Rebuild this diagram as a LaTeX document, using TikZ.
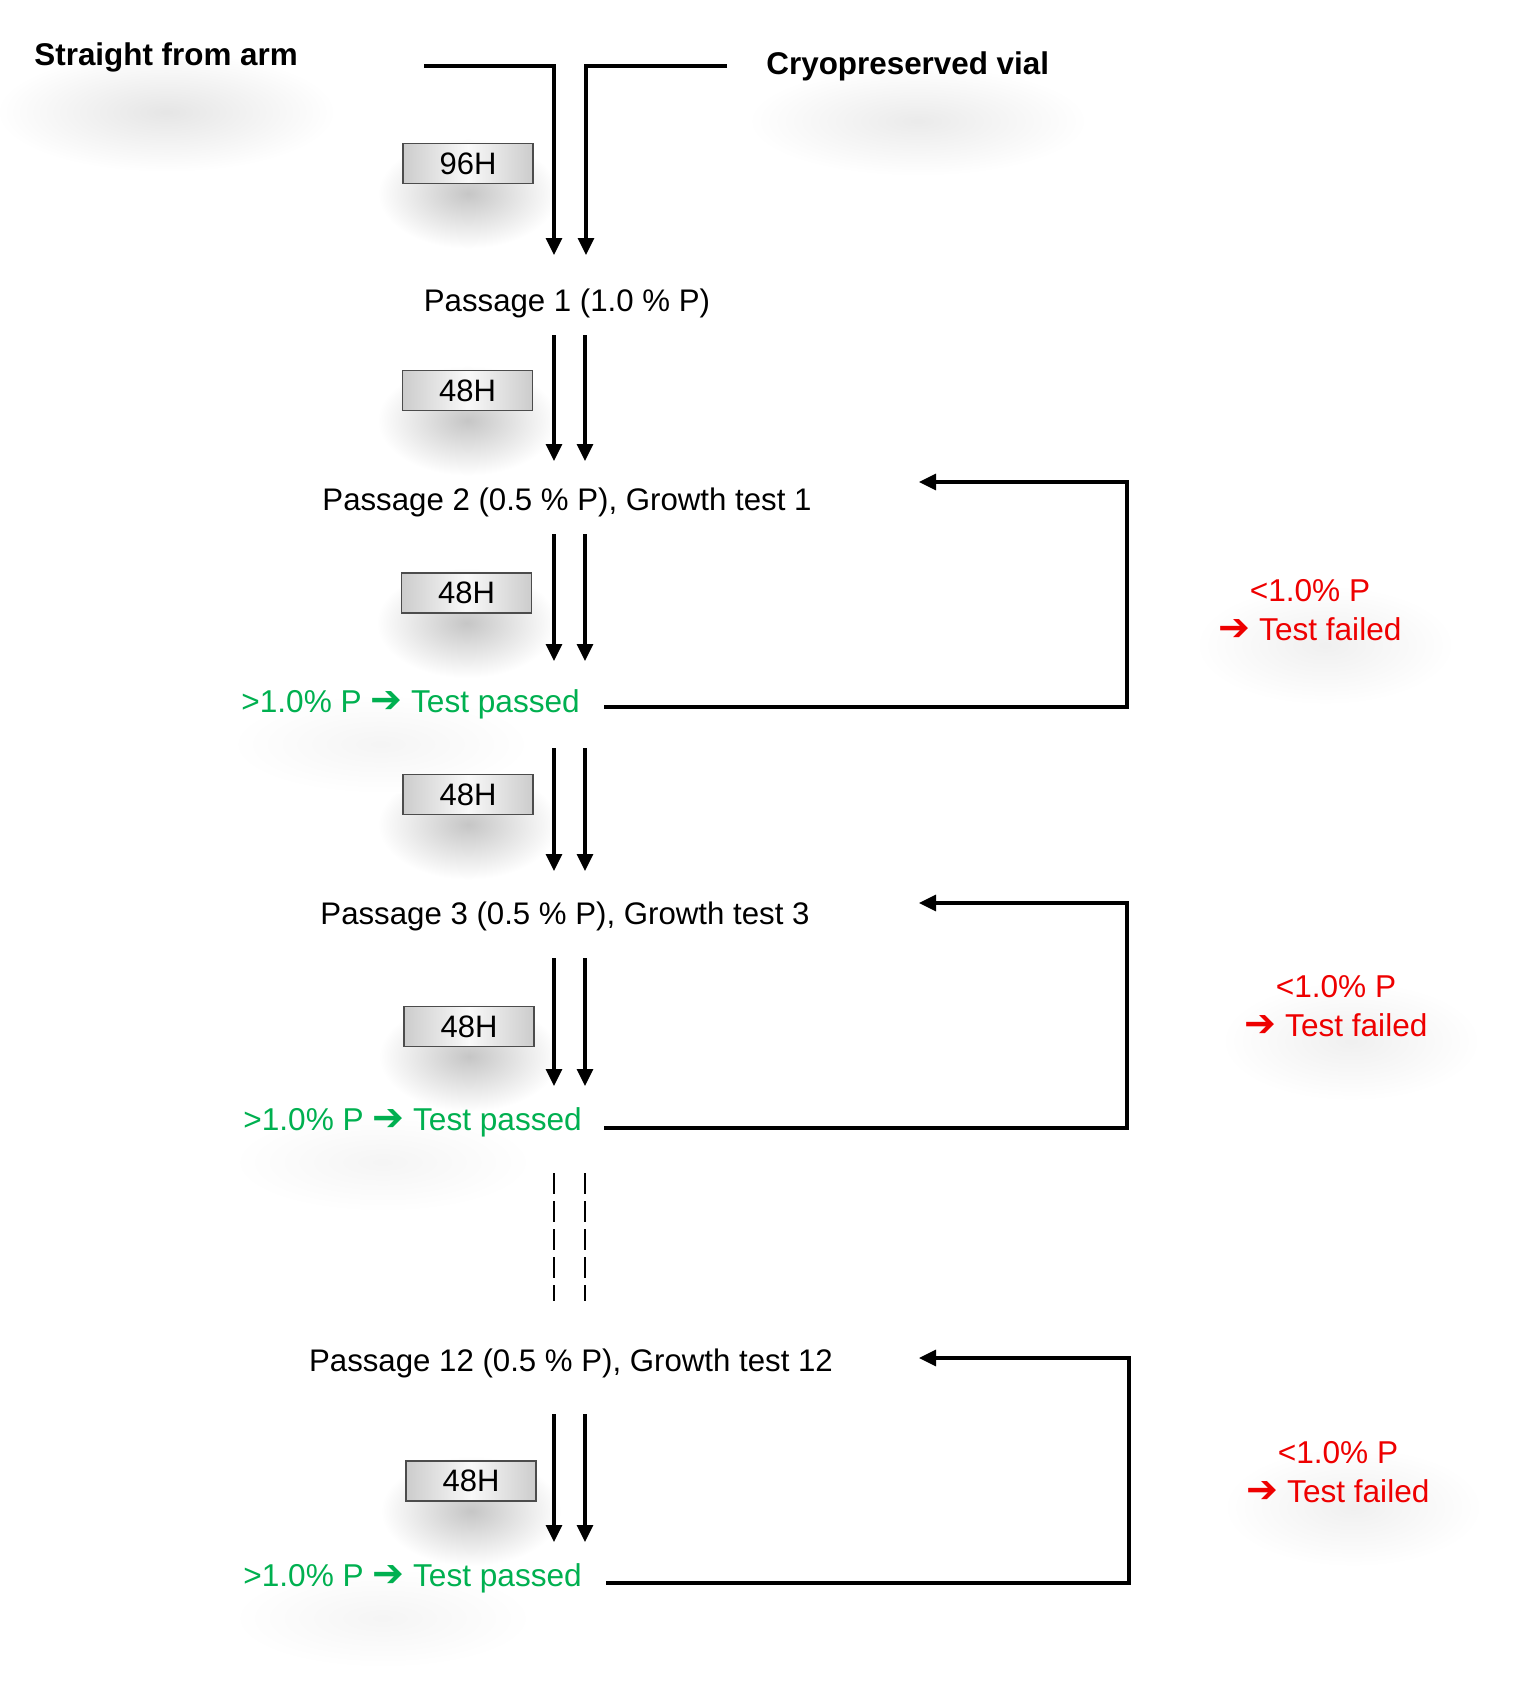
\documentclass[tikz,border=0pt]{standalone}
\usepackage{fontspec}
\setmainfont{Liberation Sans}
\newfontfamily\arrowfont{DejaVu Sans}
\usetikzlibrary{arrows.meta,calc,backgrounds}
\definecolor{passgreen}{RGB}{0,176,80}
\definecolor{failred}{RGB}{238,0,0}
\tikzset{
  flow/.style={line width=1.6pt,-{Triangle[length=8.5pt,width=8pt]}},
  dashflow/.style={line width=1.1pt,dash pattern=on 10.5pt off 3.5pt},
  hbox/.style={draw=gray!60!black,line width=0.7pt,minimum width=65pt,minimum height=20pt,inner sep=0pt,
    left color=gray!40,right color=gray!40,middle color=gray!5,
    font=\fontsize{15.5}{18}\selectfont},
  title/.style={font=\fontsize{15.7}{18}\selectfont\bfseries,anchor=west,inner sep=1pt},
  passage/.style={font=\fontsize{15.6}{18}\selectfont,inner sep=1pt},
  passtxt/.style={font=\fontsize{15.8}{18}\selectfont,text=passgreen,anchor=west,inner sep=1pt},
  failtxt/.style={font=\fontsize{15.8}{19.5}\selectfont,text=failred,align=center,inner sep=1pt},
  softshade/.style={inner color=gray!#1,outer color=white},
}
\newcommand{\parr}{{\arrowfont\fontsize{19}{18}\selectfont\char"2794}}
\begin{document}
\begin{tikzpicture}[x=0.5pt,y=-0.5pt]
\useasboundingbox (0,0) rectangle (1516,1682);

% titles
\node[title] (arm) at (32,57) {Straight from arm};
\node[title] (vial) at (764,66) {Cryopreserved vial};

% passages
\node[passage] (p1) at (567,303) {Passage 1 (1.0 \% P)};
\node[passage] (p2) at (567,502) {Passage 2 (0.5 \% P), Growth test 1};
\node[passage] (p3) at (565,916) {Passage 3 (0.5 \% P), Growth test 3};
\node[passage] (p12) at (571,1363) {Passage 12 (0.5 \% P), Growth test 12};

% pass texts
\node[passtxt] (ok1) at (239,704) {>1.0\% P \parr{} Test passed};
\node[passtxt] (ok2) at (241,1122) {>1.0\% P \parr{} Test passed};
\node[passtxt] (ok3) at (241,1578) {>1.0\% P \parr{} Test passed};

% fail texts
\node[failtxt] (f1) at (1310,610) {<1.0\% P\\\parr{} Test failed};
\node[failtxt] (f2) at (1336,1006) {<1.0\% P\\\parr{} Test failed};
\node[failtxt] (f3) at (1338,1472) {<1.0\% P\\\parr{} Test failed};

% time boxes
\node[hbox] (h96) at (468,163.5) {96H};
\node[hbox] (h48a) at (467.5,390.5) {48H};
\node[hbox] (h48b) at (466.5,593) {48H};
\node[hbox] (h48c) at (468,794.5) {48H};
\node[hbox] (h48d) at (469,1026.5) {48H};
\node[hbox] (h48e) at (471,1481) {48H};

% white page and soft shadows
\begin{pgfonlayer}{background}
\fill[white] (0,0) rectangle (1516,1682);
\foreach \b in {h96,h48a,h48b,h48c,h48d,h48e}{
  \shade[softshade=45] ($(\b.center)+(0,30)$) ellipse (90 and 55);
}
\shade[softshade=20] ($(arm.center)+(0,55)$) ellipse (170 and 60);
\shade[softshade=16] ($(vial.center)+(10,55)$) ellipse (170 and 55);
\foreach \f in {f1,f2,f3}{
  \shade[softshade=12] ($(\f.center)+(15,35)$) ellipse (130 and 60);
}
\foreach \o in {ok1,ok2,ok3}{
  \shade[softshade=8] ($(\o.center)+(-30,40)$) ellipse (150 and 50);
}
\end{pgfonlayer}

% coordinates for vertical flows
\coordinate (armS) at (424,66);
\coordinate (armK) at (554,66);
\coordinate (armE) at (554,255);
\coordinate (vialS) at (727,66);
\coordinate (vialK) at (586,66);
\coordinate (vialE) at (586,255);

\draw[flow] (armS) -- (armK) -- (armE);
\draw[flow] (vialS) -- (vialK) -- (vialE);

\foreach \a/\b/\n in {335/461/b, 534/661/c, 748/871/d, 958/1086/e, 1414/1542/g}{
  \coordinate (L\n s) at (554,\a); \coordinate (L\n e) at (554,\b);
  \coordinate (R\n s) at (585,\a); \coordinate (R\n e) at (585,\b);
  \draw[flow] (L\n s) -- (L\n e);
  \draw[flow] (R\n s) -- (R\n e);
}
\coordinate (Lfs) at (554,1173); \coordinate (Lfe) at (554,1301);
\coordinate (Rfs) at (585,1173); \coordinate (Rfe) at (585,1301);
\draw[dashflow] (Lfs) -- (Lfe);
\draw[dashflow] (Rfs) -- (Rfe);

% feedback loops
\coordinate (fb1s) at (604,707); \coordinate (fb1a) at (1127,707);
\coordinate (fb1b) at (1127,482); \coordinate (fb1e) at (919,482);
\draw[flow] (fb1s) -- (fb1a) -- (fb1b) -- (fb1e);
\coordinate (fb2s) at (604,1128); \coordinate (fb2a) at (1127,1128);
\coordinate (fb2b) at (1127,903); \coordinate (fb2e) at (919,903);
\draw[flow] (fb2s) -- (fb2a) -- (fb2b) -- (fb2e);
\coordinate (fb3s) at (606,1583); \coordinate (fb3a) at (1129,1583);
\coordinate (fb3b) at (1129,1358); \coordinate (fb3e) at (919,1358);
\draw[flow] (fb3s) -- (fb3a) -- (fb3b) -- (fb3e);
\end{tikzpicture}
\end{document}
